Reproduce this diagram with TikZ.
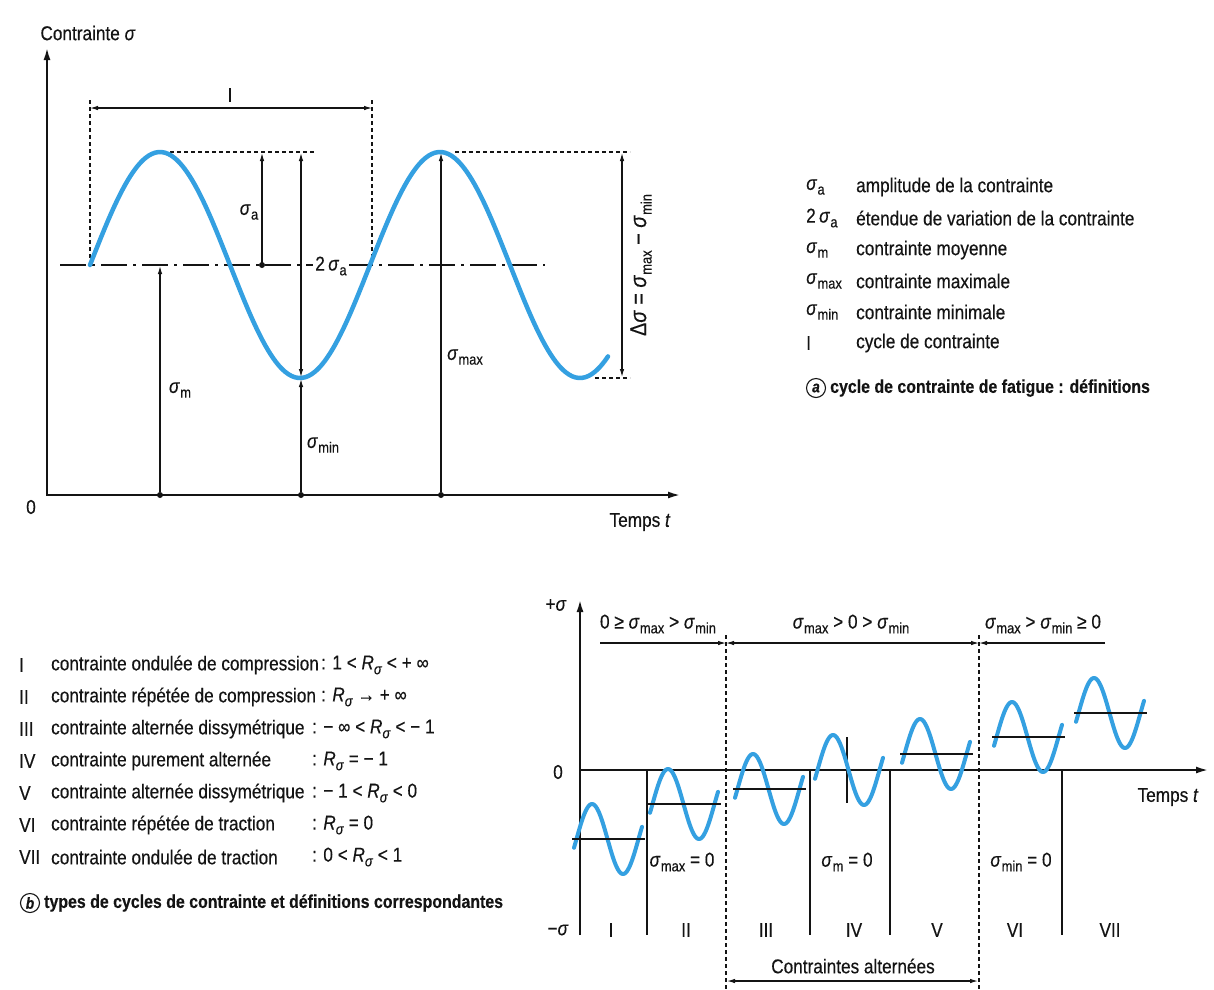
\documentclass[tikz,border=0pt]{standalone}
\usepackage{fontspec}
\setmainfont{Liberation Sans}[FakeStretch=0.86, FakeBold=0.35]
\usetikzlibrary{arrows.meta}
\definecolor{wavec}{RGB}{52,160,225}
\definecolor{ink}{RGB}{20,20,20}
\newcommand{\sbs}[1]{\raisebox{-0.45ex}{\fontsize{15}{15}\selectfont #1}}
\newcommand{\sg}[1]{\textit{σ}\kern0.4pt\sbs{#1}}
\newcommand{\Rs}{\textit{R}\sbs{\textit{σ}}}
\begin{document}
\begin{tikzpicture}[x=1pt,y=-1pt, font=\fontsize{20}{24}\selectfont, color=ink,
  axisl/.style={line width=1.8pt, -{Latex[length=12pt,width=7pt]}},
  thinl/.style={line width=1.1pt},
  arr/.style={line width=1.1pt, -{Latex[length=8pt,width=4.5pt]}},
  darr/.style={line width=1.1pt, {Latex[length=8pt,width=4.5pt]}-{Latex[length=8pt,width=4.5pt]}},
  dsh/.style={line width=1.2pt, dash pattern=on 4pt off 3pt},
  midl/.style={line width=1.5pt, dash pattern=on 26pt off 6pt on 3pt off 6pt},
  bigwave/.style={wavec, line width=4.5pt, line cap=round},
  smallwave/.style={wavec, line width=4pt, line cap=round},
  meanl/.style={line width=2.5pt},
  dotn/.style={circle, fill=ink, inner sep=0pt, minimum size=6pt},
  lw/.style={anchor=west, inner sep=1pt},
  circ/.style={draw, circle, line width=1.1pt, inner sep=0pt, minimum size=19pt, font=\fontsize{16}{16}\selectfont\bfseries\itshape},
  capt/.style={anchor=west, inner sep=1pt, font=\bfseries\fontsize{18.5}{22}\selectfont}]
\fill[white] (0,0) rectangle (1214,989);
\useasboundingbox (0,0) rectangle (1214,989);

% ---------- top graph ----------
\coordinate (Ytop) at (47,48);
\coordinate (O) at (47,495);
\coordinate (Xend) at (680,495);
\draw[line width=1.8pt, {Latex[length=12pt,width=7pt]}-{Latex[length=12pt,width=7pt]}] (Ytop) -- (O) -- (Xend);
\node (ylab) at (88,33) {Contrainte \textit{σ}};
\node (zero) at (31,507) {0};
\node (tlab) at (640,522) {Temps \textit{t}};

\draw[midl] (60,265) -- (545,265);
\draw[dsh] (90,100) -- (90,265);
\draw[dsh] (372,100) -- (372,265);
\coordinate (Ia) at (90,108);
\coordinate (Ib) at (372,108);
\draw[darr] (Ia) -- (Ib);
\node (Ilab) at (230,95) {I};
\draw[dsh] (170,152) -- (315,152);
\draw[dsh] (455,152) -- (630,152);
\draw[dsh] (595,378) -- (630,378);

\draw[bigwave] plot[domain=90:608, samples=160, smooth] (\x, {265-113*sin(1.2857143*(\x-90))});

\node[fill=white, inner sep=2pt] (l2sa) at (331,266) {2\,\sg{a}};

\coordinate (saB) at (262,265);
\coordinate (saT) at (262,153);
\draw[arr] (saB) -- (saT);
\node[dotn] (saD) at (saB) {};
\node (sa) at (249,212) {\sg{a}};

\coordinate (dsT) at (301,153);
\coordinate (dsB) at (301,377);
\draw[darr] (dsT) -- (dsB);

\node[dotn] (dm) at (160,495) {};
\coordinate (smT) at (160,266);
\draw[arr] (dm) -- (smT);
\node (sm) at (180,390) {\sg{m}};

\node[dotn] (dmin) at (301,495) {};
\coordinate (sminT) at (301,379);
\draw[arr] (dmin) -- (sminT);
\node (smin) at (323,445) {\sg{min}};

\node[dotn] (dmax) at (441,495) {};
\coordinate (smaxT) at (441,153);
\draw[arr] (dmax) -- (smaxT);
\node (smax) at (465,357) {\sg{max}};

\coordinate (rT) at (622,153);
\coordinate (rB) at (622,377);
\draw[darr] (rT) -- (rB);
\node[rotate=90, font=\fontsize{23}{26}\selectfont] (delta) at (641,265) {Δ\textit{σ} = \sg{max} − \sg{min}};

% ---------- legend a ----------
\node[lw] (a1s) at (805,187) {\sg{a}};
\node[lw] (a1t) at (855,187) {amplitude de la contrainte};
\node[lw] (a2s) at (805,218) {2\,\sg{a}};
\node[lw] (a2t) at (855,218) {étendue de variation de la contrainte};
\node[lw] (a3s) at (805,250) {\sg{m}};
\node[lw] (a3t) at (855,250) {contrainte moyenne};
\node[lw] (a4s) at (805,281) {\sg{max}};
\node[lw] (a4t) at (855,281) {contrainte maximale};
\node[lw] (a5s) at (805,312) {\sg{min}};
\node[lw] (a5t) at (855,312) {contrainte minimale};
\node[lw] (a6s) at (805,343) {I};
\node[lw] (a6t) at (855,343) {cycle de contrainte};
\node[circ] (ca) at (816,388) {a};
\node[capt] (capa) at (829,388) {cycle de contrainte de fatigue : définitions};

% ---------- legend b ----------
\node[lw] (b1r) at (18,665) {I};
\node[lw] (b1t) at (50,665) {contrainte ondulée de compression};
\node[lw] (b1c) at (320,665) {: 1 < \Rs{} < + ∞};
\node[lw] (b2r) at (18,697) {II};
\node[lw] (b2t) at (50,697) {contrainte répétée de compression};
\node[lw] (b2c) at (320,697) {: \Rs{} → + ∞};
\node[lw] (b3r) at (18,729) {III};
\node[lw] (b3t) at (50,729) {contrainte alternée dissymétrique};
\node[lw] (b3c) at (311,729) {: − ∞ < \Rs{} < − 1};
\node[lw] (b4r) at (18,761) {IV};
\node[lw] (b4t) at (50,761) {contrainte purement alternée};
\node[lw] (b4c) at (311,761) {: \Rs{} = − 1};
\node[lw] (b5r) at (18,793) {V};
\node[lw] (b5t) at (50,793) {contrainte alternée dissymétrique};
\node[lw] (b5c) at (311,793) {: − 1 < \Rs{} < 0};
\node[lw] (b6r) at (18,825) {VI};
\node[lw] (b6t) at (50,825) {contrainte répétée de traction};
\node[lw] (b6c) at (311,825) {: \Rs{} = 0};
\node[lw] (b7r) at (18,857) {VII};
\node[lw] (b7t) at (50,857) {contrainte ondulée de traction};
\node[lw] (b7c) at (311,857) {: 0 < \Rs{} < 1};
\node[circ] (cb) at (30,903) {b};
\node[capt] (capb) at (43,903) {types de cycles de contrainte et définitions correspondantes};

% ---------- bottom graph ----------
\coordinate (bY0) at (580,935);
\coordinate (bYt) at (580,600);
\coordinate (bX0) at (580,770);
\coordinate (bXe) at (1208,770);
\draw[axisl] (bY0) -- (bYt);
\draw[axisl] (bX0) -- (bXe);
\node (ps) at (556,605) {+\textit{σ}};
\node (bz) at (558,772) {0};
\node (ms) at (558,930) {−\textit{σ}};
\node (bt) at (1168,797) {Temps \textit{t}};

\coordinate (d1t) at (726,635);
\coordinate (d1b) at (726,989);
\coordinate (d2t) at (979,635);
\coordinate (d2b) at (979,989);
\draw[dsh] (d1t) -- (d1b);
\draw[dsh] (d2t) -- (d2b);

\coordinate (br0) at (600,643);
\coordinate (br1) at (726,643);
\coordinate (br2) at (979,643);
\coordinate (br3) at (1105,643);
\draw[arr] (br0) -- (br1);
\draw[darr] (br1) -- (br2);
\draw[arr] (br3) -- (br2);
\node (r1) at (658,624) {0 ≥ \sg{max} > \sg{min}};
\node (r2) at (851,624) {\sg{max} > 0 > \sg{min}};
\node (r3) at (1043,624) {\sg{max} > \sg{min} ≥ 0};

\coordinate (ca1) at (727,981);
\coordinate (ca2) at (978,981);
\draw[darr] (ca1) -- (ca2);
\node (calt) at (853,966) {Contraintes alternées};

\draw[thinl] (647,770) -- (647,935);
\draw[thinl] (810,770) -- (810,935);
\draw[thinl] (890,770) -- (890,935);
\draw[thinl] (1062,770) -- (1062,935);
\draw[line width=1.5pt] (847,737) -- (847,803);

\foreach \p/\m/\ml in {592/839/1, 668/804/1, 753/789/1, 833/770/0, 920/754/1, 1012/737/1, 1094/713/1}{
  \pgfmathsetmacro\wa{\p-18}
  \pgfmathsetmacro\wb{\p+50}
  \draw[smallwave] plot[domain=\wa:\wb, samples=60, smooth] (\x, {\m-35*cos(5.80645*(\x-\p))});
  \ifnum\ml=1 \draw[meanl] (\p-20,\m) -- (\p+53,\m); \fi
}

\node (eq1) at (682,862) {\sg{max} = 0};
\node (eq2) at (847,862) {\sg{m} = 0};
\node (eq3) at (1021,862) {\sg{min} = 0};

\node (n1) at (611,930) {I};
\node (n2) at (686,930) {II};
\node (n3) at (766,930) {III};
\node (n4) at (854,930) {IV};
\node (n5) at (937,930) {V};
\node (n6) at (1015,930) {VI};
\node (n7) at (1110,930) {VII};
\end{tikzpicture}
\end{document}
